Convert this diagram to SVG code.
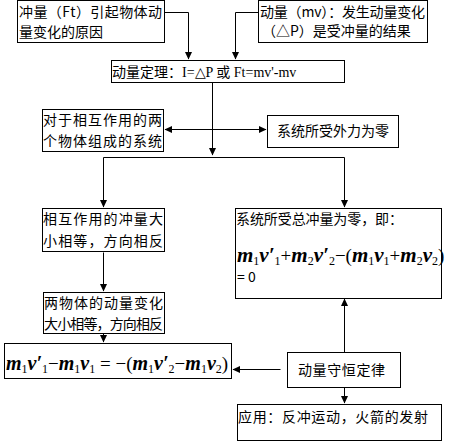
<svg xmlns="http://www.w3.org/2000/svg" width="449" height="446" viewBox="0 0 449 446">
<style>
.box{fill:#fff;stroke:#000;stroke-width:1}
.t{font-family:"Noto Sans CJK SC","Noto Sans",sans-serif;font-size:14px;fill:#000}
.ln{fill:none;stroke:#000;stroke-width:1}
.m{font-family:"Liberation Serif",serif;font-style:italic;font-weight:bold;font-size:21px;fill:#000}
.s{font-family:"Liberation Serif",serif;font-style:normal;font-weight:normal;font-size:12px}
.op{font-family:"Liberation Serif",serif;font-style:normal;font-weight:normal;font-size:19px}
</style>
<defs>
<marker id="ah" markerWidth="8" markerHeight="8" refX="7" refY="4" orient="auto" markerUnits="userSpaceOnUse">
<path d="M0,0.5 L7.5,4 L0,7.5 Z" fill="#000"/>
</marker>
</defs>
<g id="connectors">
<path class="ln" d="M164.5,12.5 H188.5 V59" marker-end="url(#ah)"/>
<path class="ln" d="M258.5,12.5 H235.5 V59" marker-end="url(#ah)"/>
<path class="ln" d="M212.5,82.5 V155" marker-end="url(#ah)"/>
<path class="ln" d="M212.5,129.5 H165" marker-end="url(#ah)"/>
<path class="ln" d="M212.5,129.5 H266" marker-end="url(#ah)"/>
<path class="ln" d="M103.5,157.5 H344.5"/>
<path class="ln" d="M103.5,157.5 V207" marker-end="url(#ah)"/>
<path class="ln" d="M344.5,157.5 V207" marker-end="url(#ah)"/>
<path class="ln" d="M103.5,252.5 V291" marker-end="url(#ah)"/>
<path class="ln" d="M103.5,333.5 V342" marker-end="url(#ah)"/>
<path class="ln" d="M280.5,369.5 H233" marker-end="url(#ah)"/>
<path class="ln" d="M344.5,352.5 V299" marker-end="url(#ah)"/>
<path class="ln" d="M344.5,387.5 V403" marker-end="url(#ah)"/>
</g>
<g id="n1"><rect class="box" x="17.5" y="0.5" width="147" height="42"/>
<text class="t" x="19" y="17" textLength="143">冲量（Ft）引起物体动</text>
<text class="t" x="19" y="37">量变化的原因</text></g>
<g id="n2"><rect class="box" x="258.5" y="0.5" width="169" height="42"/>
<text class="t" x="260" y="17" textLength="165">动量（mv）：发生动量变化</text>
<text class="t" x="262" y="36">（△P）是受冲量的结果</text></g>
<g id="n3"><rect class="box" x="111.5" y="60.5" width="233" height="22"/>
<text class="t" x="112" y="77">动量定理：<tspan font-family="Liberation Serif">I=△P </tspan>或<tspan font-family="Liberation Serif"> Ft=mv'-mv</tspan></text></g>
<g id="n4"><rect class="box" x="42.5" y="109.5" width="121" height="42"/>
<text class="t" x="43" y="125" textLength="119">对于相互作用的两</text>
<text class="t" x="43" y="146" textLength="119">个物体组成的系统</text></g>
<g id="n5"><rect class="box" x="267.5" y="115.5" width="131" height="32"/>
<text class="t" x="277" y="136" textLength="112">系统所受外力为零</text></g>
<g id="n6"><rect class="box" x="42.5" y="208.5" width="122" height="43"/>
<text class="t" x="43" y="224" textLength="120">相互作用的冲量大</text>
<text class="t" x="43" y="246" textLength="120">小相等，方向相反</text></g>
<g id="n7"><rect class="box" x="235.5" y="208.5" width="206" height="90"/>
<text class="t" x="236" y="224" textLength="167">系统所受总冲量为零，即：</text>
<text class="m" x="237" y="262">m<tspan class="s" dy="3">1</tspan><tspan dy="-3">v′</tspan><tspan class="s" dy="3">1</tspan><tspan class="op" dy="-3">+</tspan>m<tspan class="s" dy="3">2</tspan><tspan dy="-3">v′</tspan><tspan class="s" dy="3">2</tspan><tspan class="op" dy="-3">−(</tspan>m<tspan class="s" dy="3">1</tspan><tspan dy="-3">v</tspan><tspan class="s" dy="3">1</tspan><tspan class="op" dy="-3">+</tspan>m<tspan class="s" dy="3">2</tspan><tspan dy="-3">v</tspan><tspan class="s" dy="3">2</tspan><tspan class="op" dy="-3">)</tspan></text>
<text class="t" x="237" y="282" font-family="Liberation Serif">= 0</text></g>
<g id="n8"><rect class="box" x="43.5" y="292.5" width="121" height="41"/>
<text class="t" x="44" y="308" textLength="119">两物体的动量变化</text>
<text class="t" x="44" y="329" textLength="119">大小相等，方向相反</text></g>
<g id="n9"><rect class="box" x="4.5" y="343.5" width="227" height="35"/>
<text class="m" x="6" y="370" style="font-size:20px">m<tspan class="s" dy="3">1</tspan><tspan dy="-3">v′</tspan><tspan class="s" dy="3">1</tspan><tspan class="op" dy="-3">−</tspan>m<tspan class="s" dy="3">1</tspan><tspan dy="-3">v</tspan><tspan class="s" dy="3">1</tspan><tspan class="op" dy="-3"> = −(</tspan>m<tspan class="s" dy="3">1</tspan><tspan dy="-3">v′</tspan><tspan class="s" dy="3">2</tspan><tspan class="op" dy="-3">−</tspan>m<tspan class="s" dy="3">1</tspan><tspan dy="-3">v</tspan><tspan class="s" dy="3">2</tspan><tspan class="op" dy="-3">)</tspan></text></g>
<g id="n10"><rect class="box" x="287.5" y="352.5" width="113" height="35"/>
<text class="t" x="298" y="375" font-size="15" textLength="87">动量守恒定律</text></g>
<g id="n11"><rect class="box" x="237.5" y="404.5" width="204" height="36"/>
<text class="t" x="238" y="422" font-size="15" textLength="190">应用：反冲运动，火箭的发射</text></g>
</svg>
